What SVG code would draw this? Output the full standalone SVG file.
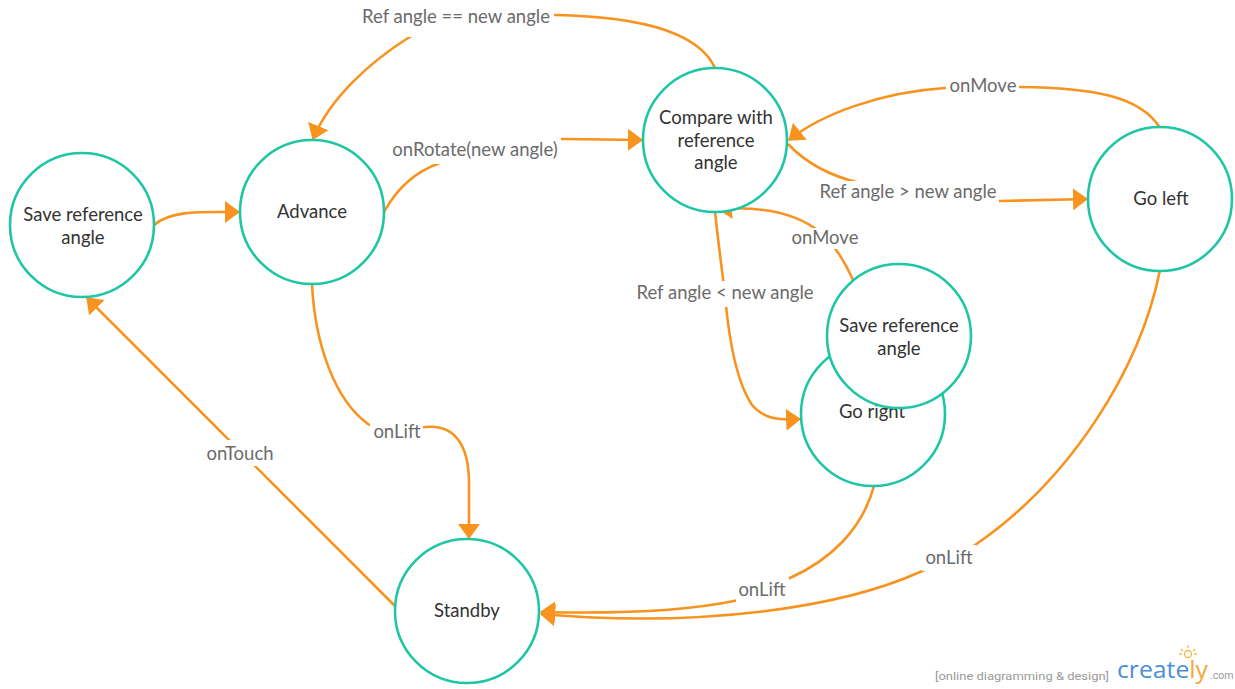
<svg xmlns="http://www.w3.org/2000/svg" width="1235" height="689" viewBox="0 0 1235 689">
<style>
.node{fill:#fff;stroke:#1fc6a6;stroke-width:2.6}
.nt{font-family:Lato,"Open Sans","Liberation Sans",sans-serif;font-size:18.5px;fill:#333;text-anchor:middle}
.edge{fill:none;stroke:#f7931e;stroke-width:2.6;marker-end:url(#arr)}
.lb{fill:#fff}
.lt{font-family:Lato,"Open Sans","Liberation Sans",sans-serif;font-size:18.5px;fill:#6b6b6b;text-anchor:middle}
</style>
<defs>
<marker id="arr" viewBox="0 0 15 22" refX="14" refY="11" markerWidth="15" markerHeight="22" markerUnits="userSpaceOnUse" orient="auto">
<path d="M0,0 L15,11 L0,22 Z" fill="#f7931e"/>
</marker>
</defs>
<rect width="1235" height="689" fill="#fff"/>
<g id="connectors">
<path class="edge" d="M154,225 C172,210 200,212 239,212"/>
<path class="edge" d="M384,212 C396,190 414,172 440,163 C480,150 520,139 565,139 L642,140"/>
<path class="edge" d="M715,68 C700,35 650,17 555,15 C480,13 430,25 408,38 C370,62 330,98 313,139"/>
<path class="edge" d="M1160,128 C1140,95 1090,88 1020,87 L945,88 C880,92 820,115 789,140"/>
<path class="edge" d="M788,144 C805,162 830,176 860,183 C920,198 960,201 1000,201 L1087,199"/>
<path class="edge" d="M715,212 C718,240 722,270 725,295 C728,330 735,380 752,405 C765,420 780,420 800,419"/>
<path class="edge" d="M853,280 C845,262 835,245 820,232 C795,212 760,206 718,209"/>
<path class="edge" d="M312,284 C315,345 335,400 368,424 C380,432 410,428 425,427 C455,424 468,445 469,480 L469,538"/>
<path class="edge" d="M396,607 L87,298"/>
<path class="edge" d="M874,486 C862,530 830,560 790,578 C770,590 750,598 734,601 C690,610 620,614 541,612"/>
<path class="edge" d="M1160,270 C1140,370 1070,480 975,545 C955,558 935,566 920,572 C840,608 700,628 541,614"/>
<g id="labels">
<rect class="lb" x="358" y="4" width="196" height="33"/>
<text class="lt" x="456" y="23">Ref angle == new angle</text>
<rect class="lb" x="389" y="138" width="172" height="26"/>
<text class="lt" x="475" y="156">onRotate(new angle)</text>
<rect class="lb" x="946" y="75" width="73" height="23"/>
<text class="lt" x="983" y="92">onMove</text>
<rect class="lb" x="816" y="181" width="183" height="22"/>
<text class="lt" x="908" y="198">Ref angle &gt; new angle</text>
<rect class="lb" x="790" y="228" width="70" height="21"/>
<text class="lt" x="825" y="244">onMove</text>
<rect class="lb" x="636" y="281" width="180" height="26"/>
<text class="lt" x="725" y="299">Ref angle &lt; new angle</text>
<rect class="lb" x="370" y="420" width="53" height="23"/>
<text class="lt" x="397" y="438">onLift</text>
<rect class="lb" x="203" y="440" width="74" height="26"/>
<text class="lt" x="240" y="460">onTouch</text>
<rect class="lb" x="736" y="578" width="53" height="24"/>
<text class="lt" x="762" y="596">onLift</text>
<rect class="lb" x="922" y="545" width="54" height="26"/>
<text class="lt" x="949" y="564">onLift</text>
</g>
</g>
<g id="node-save-left">
<circle class="node" cx="82" cy="225" r="72"/>
<text class="nt" x="83" y="221">Save reference</text>
<text class="nt" x="83" y="244">angle</text>
</g>
<g id="node-advance">
<circle class="node" cx="312" cy="212" r="72"/>
<text class="nt" x="312" y="218">Advance</text>
</g>
<g id="node-compare">
<circle class="node" cx="715" cy="140" r="72"/>
<text class="nt" x="716" y="124">Compare with</text>
<text class="nt" x="716" y="147">reference</text>
<text class="nt" x="716" y="169">angle</text>
</g>
<g id="node-goleft">
<circle class="node" cx="1160" cy="199" r="72"/>
<text class="nt" x="1161" y="205">Go left</text>
</g>
<g id="node-goright">
<circle class="node" cx="873" cy="414" r="72"/>
<text class="nt" x="872" y="418">Go right</text>
</g>
<g id="node-save-right">
<circle class="node" cx="899" cy="336" r="72"/>
<text class="nt" x="899" y="332">Save reference</text>
<text class="nt" x="899" y="355">angle</text>
</g>
<g id="node-standby">
<circle class="node" cx="467" cy="611" r="72"/>
<text class="nt" x="467" y="617">Standby</text>
</g>
<g id="watermark">
<text x="935" y="680" font-family="Roboto,'Liberation Sans',sans-serif" font-size="11.5" fill="#9a9a9a" textLength="174" lengthAdjust="spacingAndGlyphs">[online diagramming &amp; design]</text>
<text x="1117" y="678" font-family="'Open Sans','Liberation Sans',sans-serif" font-size="23" fill="#4a8fd4" textLength="91" lengthAdjust="spacingAndGlyphs">create<tspan fill="#f5a63a">ly</tspan></text>
<text x="1210" y="679" font-family="Roboto,'Liberation Sans',sans-serif" font-size="10.5" fill="#9a9a9a">.com</text>
<g stroke="#f5b84a" stroke-width="1.3" fill="none">
<circle cx="1188" cy="654" r="3.5"/>
<path d="M1188,645 V648 M1181,649 L1183,651 M1195,649 L1193,651 M1179,654 H1182 M1194,654 H1197"/>
</g>
</g>
</svg>
